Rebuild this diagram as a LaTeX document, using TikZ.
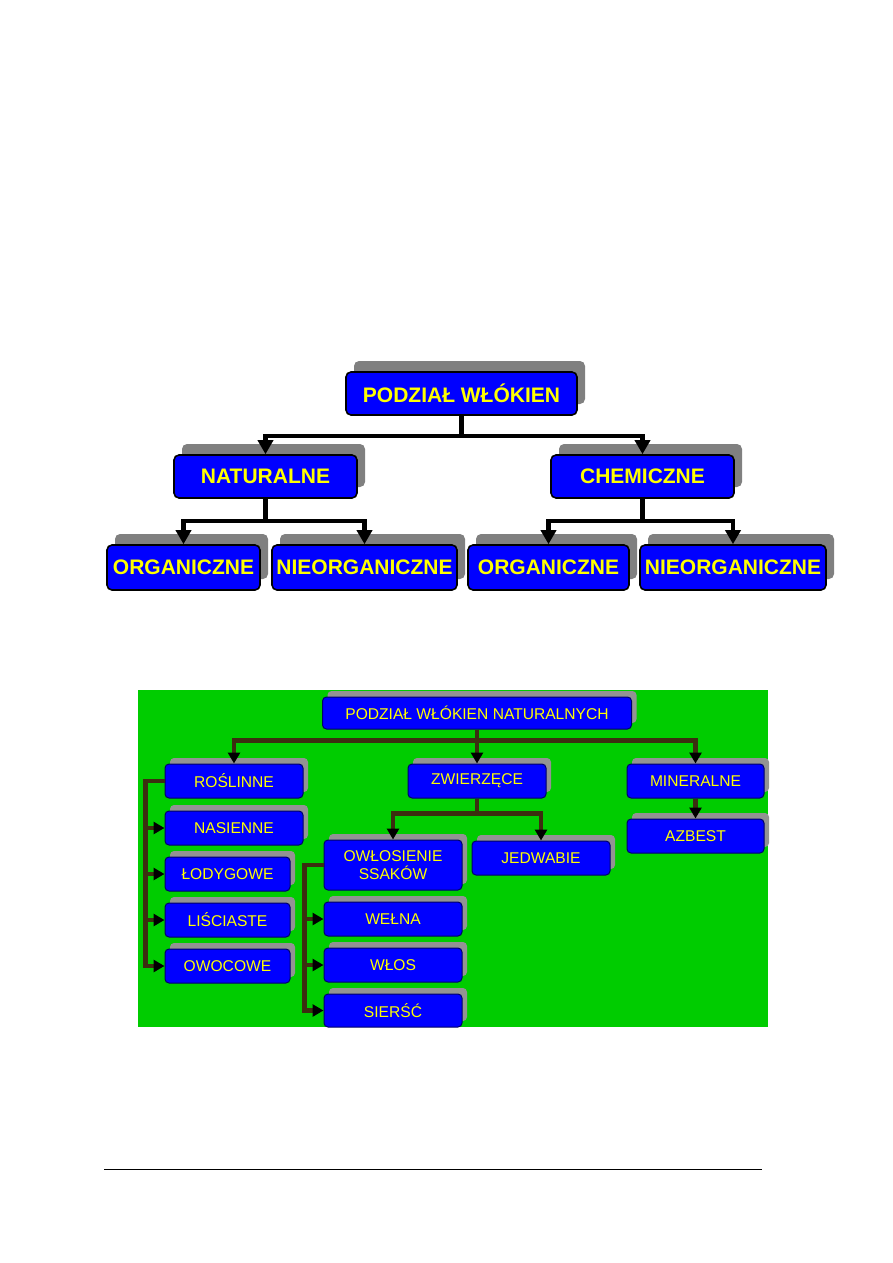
\documentclass[tikz,border=0pt]{standalone}
\usepackage{fontspec}
\setmainfont{Liberation Sans}
\usetikzlibrary{positioning,arrows.meta,shadows}
\definecolor{boxblue}{RGB}{0,0,255}
\definecolor{txtyellow}{RGB}{255,255,0}
\definecolor{shadegray}{RGB}{128,128,128}
\definecolor{bggreen}{RGB}{0,204,0}
\definecolor{linebrown}{RGB}{60,46,16}
\begin{document}
\begin{tikzpicture}[x=1pt,y=-1pt,
  tbox/.style={draw=black,line width=1.6pt,fill=boxblue,rounded corners=5pt,
    text=txtyellow,font=\bfseries\fontsize{21}{24}\selectfont,
    inner sep=0pt,minimum height=43pt,
    drop shadow={shadow xshift=8pt,shadow yshift=11pt,fill=shadegray,opacity=1}},
  gbox/.style={draw=blue!40!black,line width=1pt,fill=boxblue,rounded corners=4pt,
    text=txtyellow,font=\fontsize{15.6}{18}\selectfont,align=center,
    inner sep=0pt,minimum width=138pt,minimum height=34pt,
    drop shadow={shadow xshift=5pt,shadow yshift=6pt,fill=shadegray!85!white,opacity=1}},
  tconn/.style={line width=4.5pt,-{Triangle[width=15pt,length=14pt]}},
  gconn/.style={draw=linebrown,line width=4.5pt,-{Triangle[width=12pt,length=11pt,color=black]}}]
\useasboundingbox (0,0) rectangle (893,1263);

% upper chart
\node[tbox,minimum width=231pt] (top) at (461.5,393.5) {PODZIAŁ WŁÓKIEN};
\node[tbox,minimum width=183pt] (nat) at (265.5,476.5) {NATURALNE};
\node[tbox,minimum width=183pt] (chem) at (642.5,476.5) {CHEMICZNE};
\node[tbox,minimum width=153pt,minimum height=45pt] (org1) at (183.5,567.5) {ORGANICZNE};
\node[tbox,minimum width=185pt,minimum height=45pt] (nieorg1) at (364.5,567.5) {NIEORGANICZNE};
\node[tbox,minimum width=161pt,minimum height=45pt] (org2) at (548.5,567.5) {ORGANICZNE};
\node[tbox,minimum width=186pt,minimum height=45pt] (nieorg2) at (733,567.5) {NIEORGANICZNE};

\draw[tconn] (top.south) -- ++(0,20) -| (nat.north);
\draw[tconn] (top.south) -- ++(0,20) -| (chem.north);
\draw[tconn] (nat.south) -- ++(0,22) -| (org1.north);
\draw[tconn] (nat.south) -- ++(0,22) -| (nieorg1.north);
\draw[tconn] (chem.south) -- ++(0,22) -| (org2.north);
\draw[tconn] (chem.south) -- ++(0,22) -| (nieorg2.north);

% lower chart
\fill[bggreen] (138,690) rectangle (768,1027);
\node[gbox,minimum width=309pt,minimum height=32pt] (nat0) at (477,713) {PODZIAŁ WŁÓKIEN NATURALNYCH};
\node[gbox] (rosl) at (234,781) {ROŚLINNE};
\node[gbox] (zwier) at (477,781) {ZWIERZĘCE};
\node[gbox,minimum width=137pt] (miner) at (695.5,781) {MINERALNE};
\node[gbox,minimum width=137pt,below=20pt of miner] (azb) {AZBEST};

\node[gbox,below=12pt of rosl] (nasien) {NASIENNE};
\node[gbox,minimum width=125pt,below=11pt of nasien.south west,anchor=north west] (lodyg) {ŁODYGOWE};
\node[gbox,minimum width=125pt,below=11pt of lodyg] (lisc) {LIŚCIASTE};
\node[gbox,minimum width=125pt,below=11pt of lisc] (owoc) {OWOCOWE};

\node[gbox,minimum height=50pt] (owlos) at (393,865) {OWŁOSIENIE\\SSAKÓW};
\node[gbox] (jedw) at (541,858) {JEDWABIE};
\node[gbox,below=11pt of owlos] (welna) {WEŁNA};
\node[gbox,below=11pt of welna] (wlos) {WŁOS};
\node[gbox,below=11pt of wlos,minimum height=33pt] (siersc) {SIERŚĆ};

\draw[gconn] (nat0.south) -- ++(0,11) -| (rosl.north);
\draw[gconn] (nat0.south) -- (zwier.north);
\draw[gconn] (nat0.south) -- ++(0,11) -| (miner.north);
\draw[gconn] (miner.south) -- (azb.north);
\draw[gconn] (zwier.south) -- ++(0,15) -| (owlos.north);
\draw[gconn] (zwier.south) -- ++(0,15) -| (jedw.north);
\foreach \n in {nasien,lodyg,lisc,owoc}
  \draw[gconn] (rosl.west) -- ++(-19,0) |- (\n.west);
\foreach \n in {welna,wlos,siersc}
  \draw[gconn] (owlos.west) -- ++(-19,0) |- (\n.west);

% footer rule
\draw[line width=1pt] (104,1169) -- (762,1169);
\end{tikzpicture}
\end{document}
